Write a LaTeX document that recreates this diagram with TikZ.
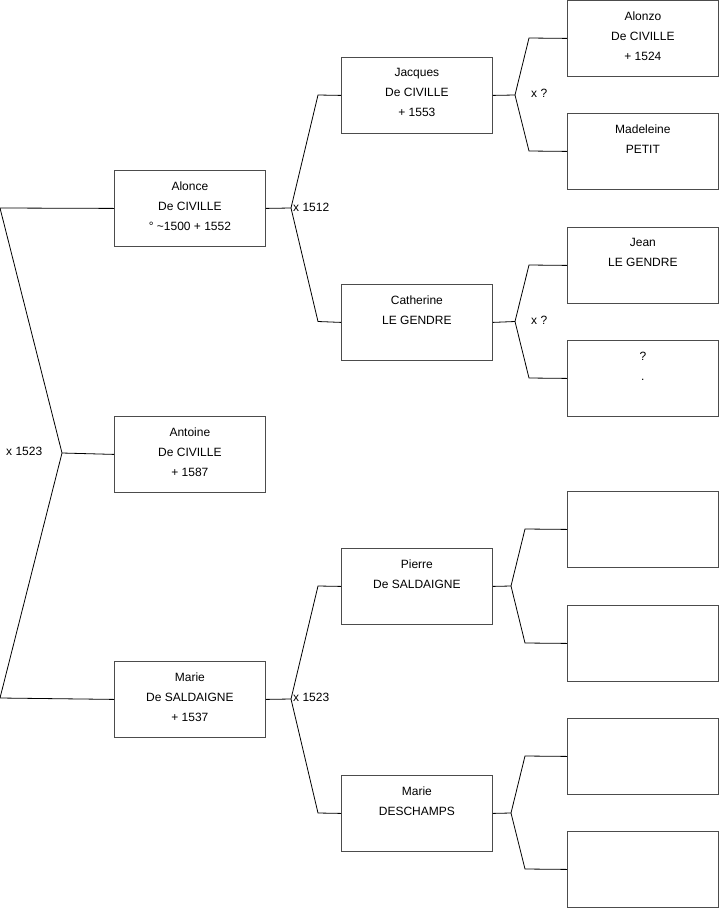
\documentclass[tikz,border=0pt]{standalone}
\usepackage{fontspec}
\setmainfont{Liberation Sans}
\begin{document}
\begin{tikzpicture}[x=1pt,y=-1pt,
  person/.style={draw=black!70, line width=0.8pt, minimum width=151pt, minimum height=76pt, inner sep=0pt, anchor=north west},
  ptext/.style={anchor=north, align=center, inner sep=0pt, font=\fontsize{12}{20}\selectfont, yshift=-11.5pt},
  link/.style={draw=black, line width=0.8pt},
  mlabel/.style={anchor=west, inner sep=0pt, font=\fontsize{12}{14}\selectfont}]
\useasboundingbox (0,0) rectangle (719,908);
% generation 1
\node[person] (alonce) at (114,170) {};
\node[person] (antoine) at (114,416) {};
\node[person] (marie) at (114,661) {};
% generation 2
\node[person] (jacques) at (341,57) {};
\node[person] (catherine) at (341,284) {};
\node[person] (pierre) at (341,548) {};
\node[person] (deschamps) at (341,775) {};
% generation 3
\node[person] (alonzo) at (567,0) {};
\node[person] (madeleine) at (567,113) {};
\node[person] (jean) at (567,227) {};
\node[person] (unknown) at (567,340) {};
\node[person] (e1) at (567,491) {};
\node[person] (e2) at (567,605) {};
\node[person] (e3) at (567,718) {};
\node[person] (e4) at (567,831) {};
% texts
\node[ptext] (talonce) at (alonce.north) {Alonce\\De CIVILLE\\° \textasciitilde 1500 + 1552};
\node[ptext] (tantoine) at (antoine.north) {Antoine\\De CIVILLE\\+ 1587};
\node[ptext] (tmarie) at (marie.north) {Marie\\De SALDAIGNE\\+ 1537};
\node[ptext] (tjacques) at (jacques.north) {Jacques\\De CIVILLE\\+ 1553};
\node[ptext] (tcatherine) at (catherine.north) {Catherine\\LE GENDRE};
\node[ptext] (tpierre) at (pierre.north) {Pierre\\De SALDAIGNE};
\node[ptext] (tdeschamps) at (deschamps.north) {Marie\\DESCHAMPS};
\node[ptext] (talonzo) at (alonzo.north) {Alonzo\\De CIVILLE\\+ 1524};
\node[ptext] (tmadeleine) at (madeleine.north) {Madeleine\\PETIT};
\node[ptext] (tjean) at (jean.north) {Jean\\LE GENDRE};
\node[ptext] (tunknown) at (unknown.north) {?\\.};
% coordinates
\coordinate (l0a) at (0,208);
\coordinate (l0) at (62,453);
\coordinate (l0b) at (0,698);
\coordinate (q1) at (291,208);
\coordinate (q1a) at (318,95);
\coordinate (q1b) at (318,321.5);
\coordinate (q2) at (291,699);
\coordinate (q2a) at (318,586);
\coordinate (q2b) at (318,813);
\coordinate (r1) at (515,95);
\coordinate (r1a) at (529,38);
\coordinate (r1b) at (529,151);
\coordinate (r2) at (515,321.5);
\coordinate (r2a) at (529,265);
\coordinate (r2b) at (529,378);
\coordinate (r3) at (511,586);
\coordinate (r3a) at (525,529);
\coordinate (r3b) at (525,643);
\coordinate (r4) at (511,813);
\coordinate (r4a) at (525,756);
\coordinate (r4b) at (525,869);
% connectors
\draw[link] (alonce.west) -- (l0a) -- (l0) -- (l0b) -- (marie.west);
\draw[link] (l0) -- (antoine.west);
\draw[link] (alonce.east) -- (q1);
\draw[link] (q1) -- (q1a) -- (jacques.west);
\draw[link] (q1) -- (q1b) -- (catherine.west);
\draw[link] (marie.east) -- (q2);
\draw[link] (q2) -- (q2a) -- (pierre.west);
\draw[link] (q2) -- (q2b) -- (deschamps.west);
\draw[link] (jacques.east) -- (r1);
\draw[link] (r1) -- (r1a) -- (alonzo.west);
\draw[link] (r1) -- (r1b) -- (madeleine.west);
\draw[link] (catherine.east) -- (r2);
\draw[link] (r2) -- (r2a) -- (jean.west);
\draw[link] (r2) -- (r2b) -- (unknown.west);
\draw[link] (pierre.east) -- (r3);
\draw[link] (r3) -- (r3a) -- (e1.west);
\draw[link] (r3) -- (r3b) -- (e2.west);
\draw[link] (deschamps.east) -- (r4);
\draw[link] (r4) -- (r4a) -- (e3.west);
\draw[link] (r4) -- (r4b) -- (e4.west);
% marriage labels
\node[mlabel] (m0) at (6,451) {x 1523};
\node[mlabel] (m1) at (293,207) {x 1512};
\node[mlabel] (m2) at (293,697) {x 1523};
\node[mlabel] (m3) at (531,93) {x ?};
\node[mlabel] (m4) at (531,320) {x ?};
\end{tikzpicture}
\end{document}
